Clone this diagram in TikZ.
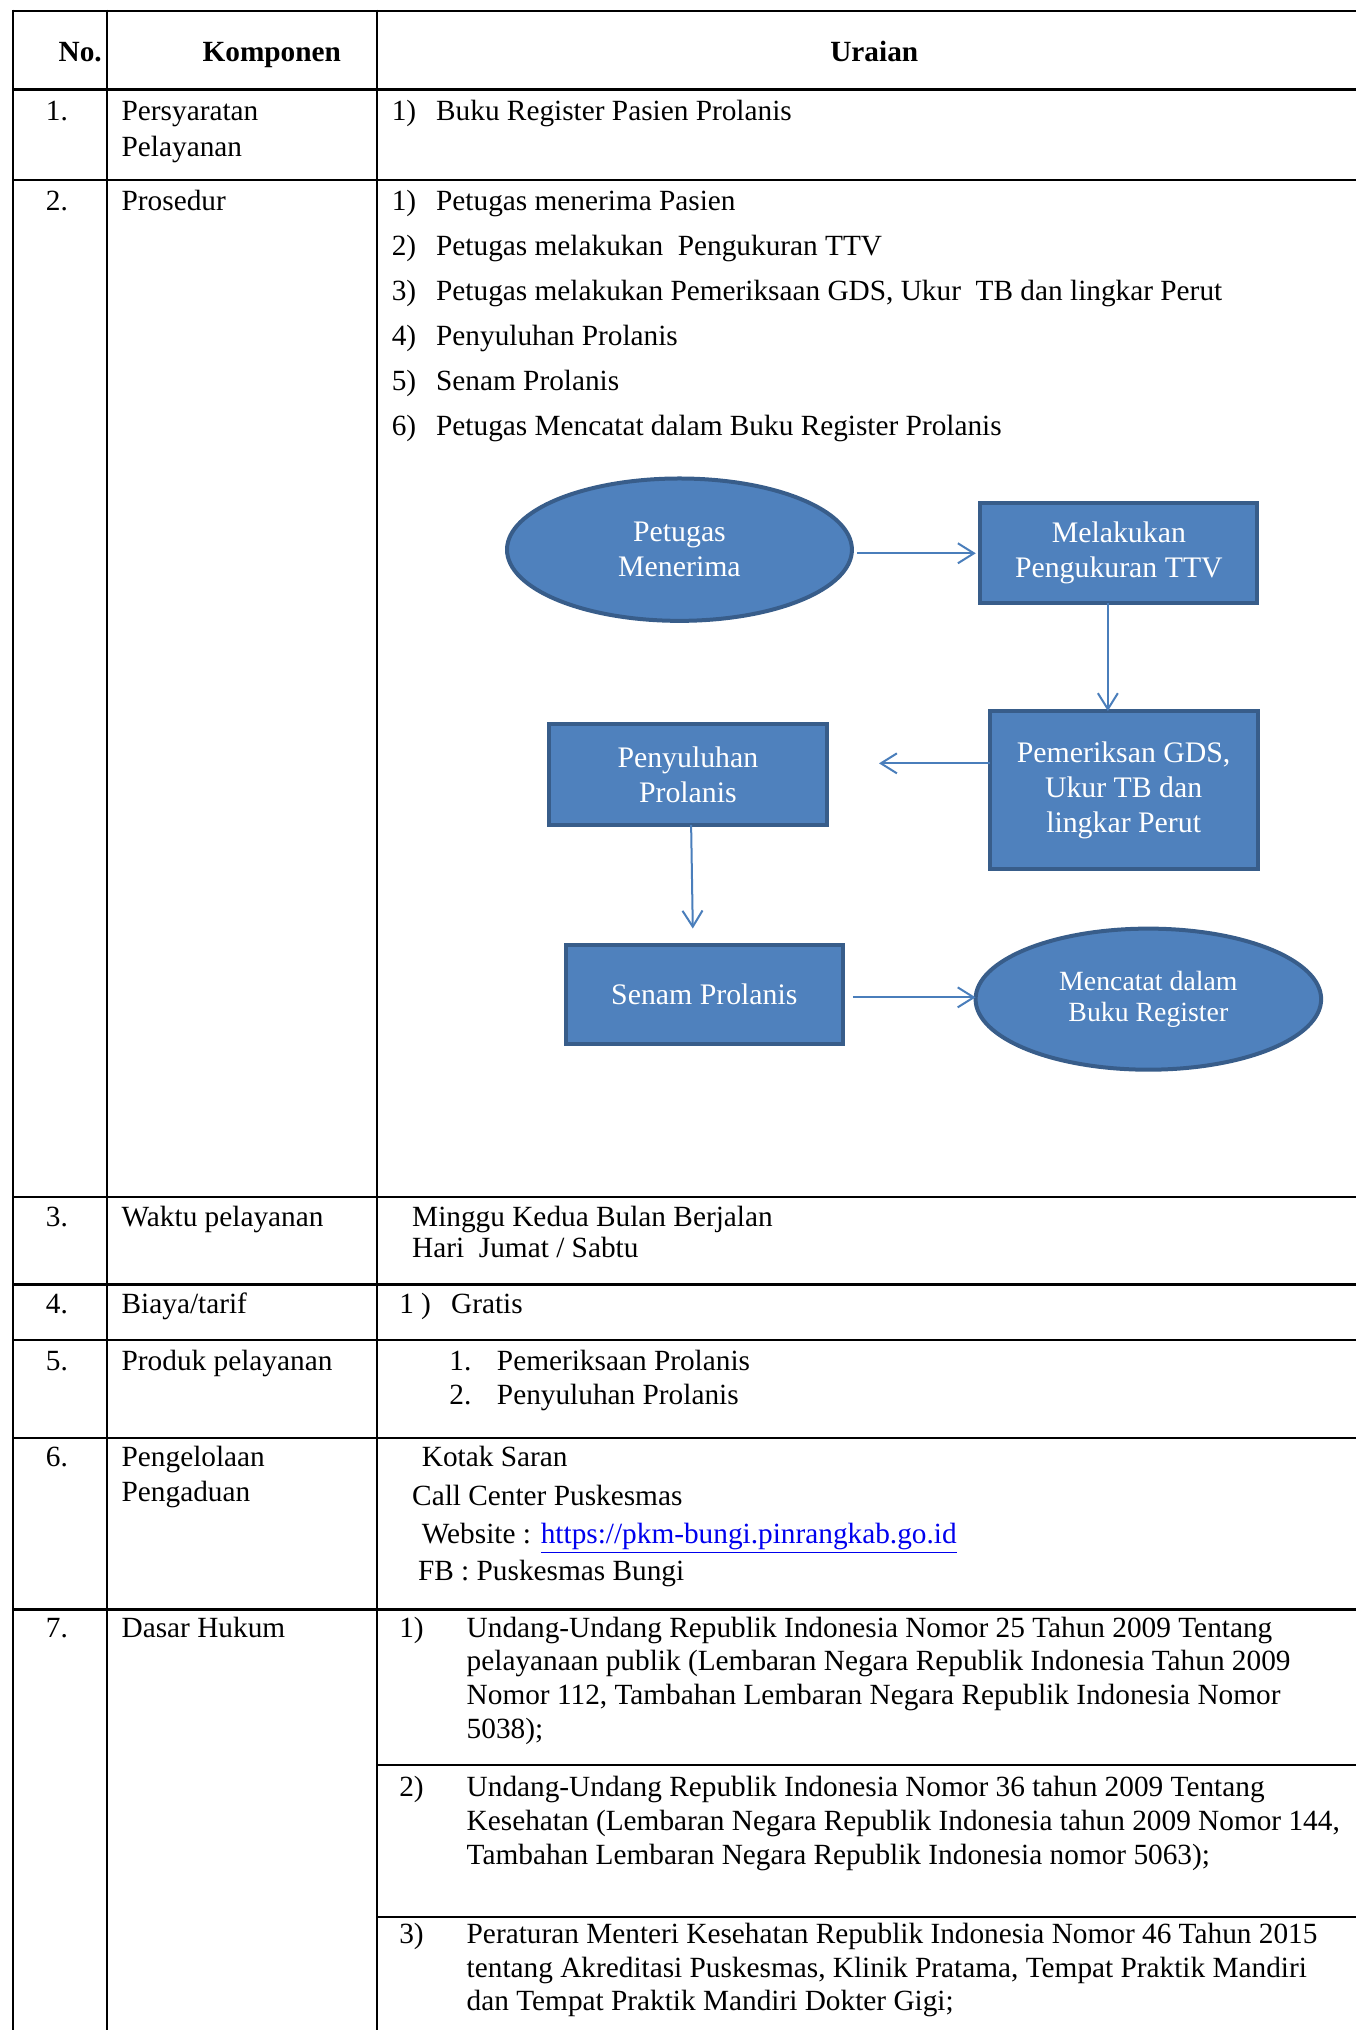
\documentclass[tikz,border=0pt]{standalone}
\usepackage{fontspec}
\setmainfont{Liberation Serif}
\usetikzlibrary{shapes.geometric,arrows.meta}
\definecolor{flowfill}{HTML}{4F81BD}
\definecolor{flowedge}{HTML}{385D8A}
\definecolor{flowline}{HTML}{4A7EBB}
\definecolor{linkblue}{HTML}{0000EE}
\newcommand{\pxu}{0.6471pt}

\begin{document}
\begin{tikzpicture}[x=0.6471pt,y=-0.6471pt,
  cell/.style={anchor=base west,inner sep=0pt,outer sep=0pt,font=\fontsize{14.65}{17}\selectfont},
  headcell/.style={anchor=base,inner sep=0pt,outer sep=0pt,font=\fontsize{14.65}{17}\selectfont\bfseries},
  tablerow/.style={line width=1.2pt,black},
  tablecol/.style={line width=1pt,black},
  procbox/.style={rectangle,draw=flowedge,fill=flowfill,line width=2pt,text=white,
    align=center,inner sep=0pt,outer sep=0pt,font=\fontsize{14.9}{17.5}\selectfont},
  termbox/.style={ellipse,draw=flowedge,fill=flowfill,line width=2pt,text=white,
    align=center,inner sep=0pt,outer sep=0pt,font=\fontsize{14.9}{17.5}\selectfont},
  flowlink/.style={draw=flowline,line width=1pt,-{Straight Barb[length=8pt,width=10pt]}}
]
\useasboundingbox (0,0) rectangle (1047,1568.5);

% ---- table grid ----
\draw[tablecol] (10,7.5) -- (10,1570);
\draw[tablecol] (83,7.5) -- (83,1570);
\draw[tablecol] (291,7.5) -- (291,1570);
\draw[line width=1.4pt] (9.5,8.5) -- (1050,8.5);
\foreach \yy in {69,139,925,992.5,1035.5,1111,1243.5}
  \draw[tablerow] (9.5,\yy) -- (1050,\yy);
\draw[tablerow] (291,1363.5) -- (1050,1363.5);
\draw[tablerow] (291,1481) -- (1050,1481);

% ---- header ----
\node[headcell] (hno) at (62,47.5) {No.};
\node[headcell] (hkomp) at (210,47.5) {Komponen};
\node[headcell] (hur) at (675.5,47.5) {Uraian};

% ---- row 1 ----
\node[cell] (n1) at (35.5,93) {1.};
\node[cell] (k1a) at (94,93) {Persyaratan};
\node[cell] (k1b) at (94,121.3) {Pelayanan};
\node[cell] (u1n) at (302.7,93) {1)};
\node[cell] (u1t) at (337,93) {Buku Register Pasien Prolanis};

% ---- row 2 ----
\node[cell] (n2) at (35.5,162.5) {2.};
\node[cell] (k2) at (94,162.5) {Prosedur};
\node[cell] (p1n) at (302.7,162.5) {1)};
\node[cell] (p1t) at (337,162.5) {Petugas menerima Pasien};
\node[cell] (p2n) at (302.7,197.3) {2)};
\node[cell] (p2t) at (337,197.3) {Petugas melakukan~ Pengukuran TTV};
\node[cell] (p3n) at (302.7,232.1) {3)};
\node[cell] (p3t) at (337,232.1) {Petugas melakukan Pemeriksaan GDS, Ukur~ TB dan lingkar Perut};
\node[cell] (p4n) at (302.7,266.9) {4)};
\node[cell] (p4t) at (337,266.9) {Penyuluhan Prolanis};
\node[cell] (p5n) at (302.7,301.7) {5)};
\node[cell] (p5t) at (337,301.7) {Senam Prolanis};
\node[cell] (p6n) at (302.7,336.5) {6)};
\node[cell] (p6t) at (337,336.5) {Petugas Mencatat dalam Buku Register Prolanis};

% ---- flowchart ----
\node[termbox,minimum width={266.5*\pxu},minimum height={110*\pxu}] (e1) at (525,424.7) {Petugas\\Menerima};
\node[procbox,minimum width={214*\pxu},minimum height={77*\pxu}] (b1) at (864.5,427.5) {Melakukan\\Pengukuran TTV};
\node[procbox,minimum width={207*\pxu},minimum height={122*\pxu}] (b2) at (868.2,610.4) {Pemeriksan GDS,\\Ukur TB dan\\lingkar Perut};
\node[procbox,minimum width={215*\pxu},minimum height={78*\pxu}] (b3) at (531.5,598.4) {Penyuluhan\\Prolanis};
\node[procbox,minimum width={214*\pxu},minimum height={77*\pxu}] (b4) at (544.2,768.3) {Senam Prolanis};
\node[termbox,minimum width={267*\pxu},minimum height={109*\pxu},font=\fontsize{13.9}{15.8}\selectfont] (e2) at (887.3,772) {Mencatat dalam\\Buku Register};

\draw[flowlink,shorten <=2.6pt,shorten >=2.3pt] (e1.east |- b1.west) -- (b1.west);
\draw[flowlink] (b1.south -| 856,0) -- (b2.north -| 856,0);
\draw[flowlink,shorten >=26pt] (b2.west |- 0,589.8) -- (b3.east |- 0,589.8);
\draw[flowlink,shorten >=8pt] (b3.south -| 534,0) -- (b4.north -| 535.5,0);
\draw[flowlink,shorten <=5pt] (b4.east |- 0,770.6) -- (e2.west |- 0,770.6);

% ---- row 3 ----
\node[cell] (n3) at (35.5,947.5) {3.};
\node[cell] (k3) at (94,947.5) {Waktu pelayanan};
\node[cell] (w1) at (318.5,947.5) {Minggu Kedua Bulan Berjalan};
\node[cell] (w2) at (318.5,971.5) {Hari~ Jumat / Sabtu};

% ---- row 4 ----
\node[cell] (n4) at (35.5,1015) {4.};
\node[cell] (k4) at (94,1015) {Biaya/tarif};
\node[cell] (g1n) at (308.5,1015) {1 )};
\node[cell] (g1t) at (348.6,1015) {Gratis};

% ---- row 5 ----
\node[cell] (n5) at (35.5,1058.6) {5.};
\node[cell] (k5) at (94,1058.6) {Produk pelayanan};
\node[cell] (r1n) at (347.2,1058.6) {1.};
\node[cell] (r1t) at (384,1058.6) {Pemeriksaan Prolanis};
\node[cell] (r2n) at (347.2,1085.5) {2.};
\node[cell] (r2t) at (384,1085.5) {Penyuluhan Prolanis};

% ---- row 6 ----
\node[cell] (n6) at (35.5,1133.3) {6.};
\node[cell] (k6a) at (94,1133.3) {Pengelolaan};
\node[cell] (k6b) at (94,1160.3) {Pengaduan};
\node[cell] (c1) at (326,1133.3) {Kotak Saran};
\node[cell] (c2) at (318.5,1163) {Call Center Puskesmas};
\node[cell] (c3) at (326,1192.5) {Website : {\color{linkblue}\underline{https://pkm-bungi.pinrangkab.go.id}}};
\node[cell] (c4) at (323,1221) {FB : Puskesmas Bungi};

% ---- row 7 ----
\node[cell] (n7) at (35.5,1265) {7.};
\node[cell] (k7) at (94,1265) {Dasar Hukum};
\node[cell] (d1n) at (308.5,1265) {1)};
\node[cell] (d1a) at (360.6,1265) {Undang-Undang Republik Indonesia Nomor 25 Tahun 2009 Tentang};
\node[cell] (d1b) at (360.6,1291) {pelayanaan publik (Lembaran Negara Republik Indonesia Tahun 2009};
\node[cell] (d1c) at (360.6,1317) {Nomor 112, Tambahan Lembaran Negara Republik Indonesia Nomor};
\node[cell] (d1d) at (360.6,1343) {5038);};
\node[cell] (d2n) at (308.5,1388.3) {2)};
\node[cell] (d2a) at (360.6,1388.3) {Undang-Undang Republik Indonesia Nomor 36 tahun 2009 Tentang};
\node[cell] (d2b) at (360.6,1414.3) {Kesehatan (Lembaran Negara Republik Indonesia tahun 2009 Nomor 144,};
\node[cell] (d2c) at (360.6,1440.3) {Tambahan Lembaran Negara Republik Indonesia nomor 5063);};
\node[cell] (d3n) at (308.5,1501.6) {3)};
\node[cell] (d3a) at (360.6,1501.6) {Peraturan Menteri Kesehatan Republik Indonesia Nomor 46 Tahun 2015};
\node[cell] (d3b) at (360.6,1527.6) {tentang Akreditasi Puskesmas, Klinik Pratama, Tempat Praktik Mandiri};
\node[cell] (d3c) at (360.6,1553.6) {dan Tempat Praktik Mandiri Dokter Gigi;};
\end{tikzpicture}
\end{document}
